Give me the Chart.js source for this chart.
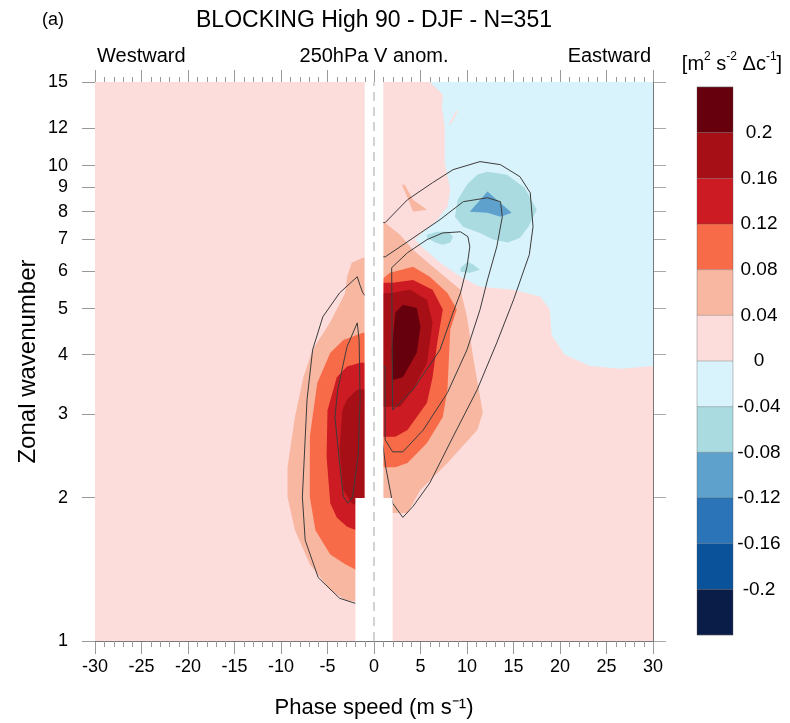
<!DOCTYPE html>
<html lang="en">
<head>
<meta charset="UTF-8">
<title>BLOCKING High 90 - DJF - N=351</title>
<script src="https://cdn.jsdelivr.net/npm/chart.js"></script>
<style>
  html, body { margin: 0; padding: 0; background: #fff; }
</style>
</head>
<body>
<div style="width: 790px; height: 723px;">
  <canvas id="specChart"></canvas>
</div>
<script>
// axes
const waveTicks = [1, 2, 3, 4, 5, 6, 7, 8, 9, 10, 12, 15];
const levelLabels = ['0.2', '0.16', '0.12', '0.08', '0.04', '0', '-0.04', '-0.08', '-0.12', '-0.16', '-0.2'];
// colour of each band, from > 0.2 down to < -0.2
const levelColors = ['#67000d', '#a50f15', '#cc1b22', '#f86b49', '#f8b7a1', '#fddcdc',
                     '#d8f3fb', '#a9dbe0', '#5ea1cd', '#2b74b8', '#0a539b', '#0a1d49'];

// shaded regions as [phase speed, wavenumber] pairs
const bgPink = [[-30, 1], [30, 1], [30, 15], [-30, 15]];
const negWeak = [[6.0, 15], [7.4, 14.1], [7.3, 13.3], [7.6, 12.1], [7.6, 10.15], [8.2, 8.9], [7.9, 8.2],
  [6.8, 7.7], [4.4, 7.0], [5.3, 6.7], [7.1, 6.25], [9.3, 5.84], [11.4, 5.56], [15.0, 5.48], [17.9, 5.3],
  [18.9, 4.98], [19.1, 4.41], [20.5, 4.0], [23.2, 3.79], [26.5, 3.74], [30, 3.79], [30, 15]];
const posSliverA = [[8.0, 12.2], [8.8, 13.0], [9.1, 13.1], [8.3, 12.25]];
const negMid = [[12.2, 9.71], [14.3, 9.57], [16.2, 8.99], [17.5, 8.08], [16.6, 7.44], [15.7, 7.05],
  [14.4, 6.89], [12.8, 6.99], [11.4, 7.22], [9.6, 7.44], [8.7, 7.81], [9.0, 8.48], [10.0, 9.12], [11.1, 9.57]];
const negMidB = [[5.7, 7.16], [6.8, 7.26], [8.0, 7.26], [8.5, 7.09], [8.2, 6.89], [7.4, 6.82], [6.6, 6.89], [5.7, 7.05]];
const negMidC = [[9.3, 6.10], [10.1, 6.28], [10.7, 6.19], [11.4, 6.04], [10.3, 5.95], [9.3, 5.98]];
const negStrong = [[10.3, 8.0], [12.2, 8.82], [13.2, 8.48], [14.8, 7.96], [13.6, 7.81], [12.2, 7.96]];

const westP04 = [[-1.2, 6.4], [-2.4, 6.25], [-2.9, 5.84], [-3.1, 5.4], [-4.7, 4.69], [-6.6, 4.1],
  [-7.6, 3.59], [-8.5, 2.96], [-9.3, 2.32], [-9.3, 2.01], [-8.5, 1.71], [-6.9, 1.45], [-4.7, 1.28],
  [-3.1, 1.22], [-1.9, 1.21], [-1, 1.21], [-1, 6.4]];
const westP08 = [[-1.2, 4.45], [-3.3, 4.3], [-4.7, 4.04], [-6.1, 3.49], [-6.9, 2.69], [-6.9, 2.01],
  [-6.3, 1.71], [-4.7, 1.52], [-3.1, 1.45], [-1.9, 1.41], [-1, 1.41], [-1, 4.45]];
const westP12 = [[-1.5, 3.85], [-2.9, 3.78], [-4.0, 3.59], [-5.0, 3.06], [-5.1, 2.44], [-4.7, 1.95],
  [-4.0, 1.82], [-2.9, 1.74], [-1.9, 1.71], [-1, 1.71], [-1, 3.85]];
const westP16 = [[-1.8, 3.38], [-2.9, 3.22], [-3.4, 3.06], [-3.7, 2.52], [-3.3, 2.08], [-2.4, 1.95],
  [-1.9, 1.93], [-1, 1.93], [-1, 3.38]];

const eastP04 = [[1.1, 7.6], [2.8, 7.16], [4.2, 6.65], [7.1, 5.95], [9.3, 5.48], [10.0, 4.81],
  [10.7, 3.91], [11.7, 3.02], [11.1, 2.78], [7.9, 2.37], [5.0, 2.08], [3.6, 1.86], [2.2, 1.86],
  [1, 1.86], [1, 7.6]];
const eastP08 = [[1, 5.8], [1.7, 5.95], [4.2, 6.13], [6.0, 5.84], [7.9, 5.4], [8.9, 4.98], [8.2, 4.52],
  [7.9, 3.38], [7.4, 2.96], [5.7, 2.61], [3.6, 2.37], [2.3, 2.32], [1, 2.32]];
const eastP12 = [[1, 5.67], [2.0, 5.67], [4.2, 5.75], [6.3, 5.48], [7.4, 4.98], [6.8, 4.24], [6.3, 3.59],
  [5.7, 3.17], [3.6, 2.78], [2.3, 2.69], [1, 2.69]];
const eastP16 = [[1, 5.4], [1.9, 5.4], [3.9, 5.48], [5.7, 5.22], [6.3, 4.67], [5.7, 3.85], [4.2, 3.38],
  [2.8, 3.11], [1, 3.11]];
const eastP20 = [[2.3, 4.91], [3.1, 5.1], [4.6, 5.02], [5.0, 4.58], [4.6, 4.04], [3.1, 3.59], [2.0, 3.54], [1.9, 4.1]];
const posSliverB = [[3.0, 9.12], [3.3, 9.12], [4.2, 8.48], [5.7, 8.08], [4.2, 8.0], [3.7, 8.48]];

// black contour lines
const eastOuter = [[0.5, 7.6], [1.2, 7.59], [3.6, 8.48], [6.3, 9.21], [8.5, 9.81], [11.4, 10.2],
  [13.6, 10.05], [15.7, 9.48], [16.8, 8.77], [17.1, 7.44], [16.7, 6.5], [15.0, 5.22], [13.2, 4.24],
  [11.1, 3.38], [8.5, 2.69], [6.0, 2.15], [4.2, 1.92], [3.1, 1.82], [2.0, 1.95], [1.3, 2.3], [0.5, 3.0], [0.5, 7.6]];
const eastMiddle = [[0.5, 6.43], [1.2, 6.43], [2.8, 6.75], [5.0, 7.22], [7.1, 7.7], [9.6, 8.4], [12.2, 8.56],
  [13.6, 8.4], [13.8, 7.81], [13.2, 6.75], [12.2, 5.75], [11.4, 4.98], [10.0, 4.1], [7.9, 3.33],
  [5.3, 2.78], [3.1, 2.5], [2.0, 2.5], [1.2, 2.65], [1.2, 3.78], [0.5, 3.78], [0.5, 6.43]];
const eastInner = [[1.9, 6.1], [3.6, 6.56], [5.7, 6.99], [7.4, 7.22], [9.3, 7.26], [10.1, 7.09], [10.3, 6.75],
  [10.0, 6.13], [9.3, 5.4], [8.5, 4.91], [7.1, 4.1], [4.2, 3.38], [2.0, 3.06], [1.9, 6.1]];
const westOuter = [[-1.8, 5.84], [-3.7, 5.4], [-5.5, 4.81], [-6.6, 4.1], [-7.2, 3.22], [-7.7, 2.01],
  [-7.4, 1.63], [-6.0, 1.36], [-3.7, 1.23], [-2.0, 1.2], [-1.5, 1.2], [-0.5, 1.5], [-0.5, 5.2],
  [-1.2, 5.4], [-1.5, 5.6], [-1.8, 5.84]];
const westInner = [[-1.8, 4.67], [-2.9, 4.16], [-3.9, 3.38], [-4.2, 2.96], [-3.7, 2.37], [-3.3, 2.01],
  [-2.8, 1.95], [-2.3, 2.01], [-1.7, 2.46], [-1.5, 3.22], [-1.6, 4.3], [-1.8, 4.67]];

// masked band around zero phase speed
const maskBand = [[-1, 15], [1, 15], [1, 2], [2, 2], [2, 1], [-2, 1], [-2, 2], [-1, 2]];
const zeroLine = [[0, 1], [0, 15]];

function toPoints(pts, close) {
  const out = pts.map(p => ({ x: p[0], y: p[1] }));
  if (close) out.push({ x: pts[0][0], y: pts[0][1] });
  return out;
}

function shade(pts, color) {
  return {
    data: toPoints(pts, true), showLine: true, fill: 'shape',
    backgroundColor: color, borderColor: color, borderWidth: 0,
    pointRadius: 0, pointHoverRadius: 0, tension: 0
  };
}

function contour(pts) {
  return {
    data: toPoints(pts, false), showLine: true, fill: false,
    borderColor: '#3c3c3c', borderWidth: 1, pointRadius: 0, pointHoverRadius: 0, tension: 0
  };
}

const datasets = [
  shade(bgPink, levelColors[5]),
  shade(negWeak, levelColors[6]),
  shade(posSliverA, levelColors[5]),
  shade(negMid, levelColors[7]),
  shade(negMidB, levelColors[7]),
  shade(negMidC, levelColors[7]),
  shade(negStrong, levelColors[8]),
  shade(westP04, levelColors[4]),
  shade(westP08, levelColors[3]),
  shade(westP12, levelColors[2]),
  shade(westP16, levelColors[1]),
  shade(eastP04, levelColors[4]),
  shade(eastP08, levelColors[3]),
  shade(eastP12, levelColors[2]),
  shade(eastP16, levelColors[1]),
  shade(eastP20, levelColors[0]),
  shade(posSliverB, levelColors[4]),
  contour(eastOuter),
  contour(eastMiddle),
  contour(eastInner),
  contour(westOuter),
  contour(westInner),
  shade(maskBand, '#ffffff'),
  {
    data: toPoints(zeroLine, false), showLine: true, fill: false,
    borderColor: '#c4c4c4', borderWidth: 1.5, borderDash: [9, 6], pointRadius: 0
  }
];
// later entries are drawn on top
datasets.forEach((d, i) => { d.order = datasets.length - i; });

const FONT = "'Liberation Sans', Arial, sans-serif";

// text with raised small parts, e.g. ['m', '2'] pairs of (base, superscript)
function drawSup(ctx, parts, cx, cy, size) {
  const big = size + 'px ' + FONT, small = Math.round(size * 0.62) + 'px ' + FONT;
  let w = 0;
  parts.forEach(p => {
    ctx.font = p[1] ? small : big;
    w += ctx.measureText(p[0]).width;
  });
  let x = cx - w / 2;
  ctx.textAlign = 'left';
  parts.forEach(p => {
    ctx.font = p[1] ? small : big;
    ctx.fillText(p[0], x, p[1] ? cy - size * 0.38 : cy);
    x += ctx.measureText(p[0]).width;
  });
}

const extras = {
  id: 'extras',
  afterDraw(chart) {
    const ctx = chart.ctx;
    const a = chart.chartArea;
    const x = chart.scales.x;
    ctx.save();
    // minor ticks
    ctx.strokeStyle = '#999';
    ctx.lineWidth = 1;
    for (let v = -30; v <= 30; v++) {
      if (v % 5 === 0) continue;
      const px = Math.round(x.getPixelForValue(v)) + 0.5;
      ctx.beginPath();
      ctx.moveTo(px, a.bottom); ctx.lineTo(px, a.bottom + 6);
      ctx.moveTo(px, a.top); ctx.lineTo(px, a.top - 5);
      ctx.stroke();
    }
    ctx.fillStyle = '#000';
    ctx.textBaseline = 'middle';
    ctx.font = '18px ' + FONT;
    ctx.textAlign = 'center';
    ctx.fillText('(a)', 53, 20);
    ctx.font = '23px ' + FONT;
    ctx.fillText('BLOCKING High 90 - DJF - N=351', (a.left + a.right) / 2, 21);
    ctx.font = '20px ' + FONT;
    ctx.fillText('250hPa V anom.', (a.left + a.right) / 2, 56);
    ctx.textAlign = 'left';
    ctx.fillText('Westward', a.left + 2, 56);
    ctx.textAlign = 'right';
    ctx.fillText('Eastward', a.right - 2, 56);
    drawSup(ctx, [['[m', 0], ['2', 1], [' s', 0], ['-2', 1], [' \u0394c', 0], ['-1', 1], [']', 0]],
            a.right + 79, 64, 20);

    // colour bar
    const bx = a.right + 44, bw = 36, top = a.top + 5, bottom = a.bottom - 6;
    const bh = (bottom - top) / levelColors.length;
    levelColors.forEach((c, i) => {
      ctx.fillStyle = c;
      ctx.fillRect(bx, top + i * bh, bw, bh);
    });
    ctx.strokeStyle = 'rgba(90,90,90,0.5)';
    ctx.lineWidth = 0.7;
    for (let i = 0; i <= levelColors.length; i++) {
      ctx.beginPath();
      ctx.moveTo(bx, top + i * bh); ctx.lineTo(bx + bw, top + i * bh);
      ctx.stroke();
    }
    ctx.strokeRect(bx, top, bw, bottom - top);
    ctx.fillStyle = '#000';
    ctx.font = '19px ' + FONT;
    ctx.textAlign = 'center';
    levelLabels.forEach((t, i) => {
      ctx.fillText(t, bx + 62, top + (i + 1) * bh);
    });
    ctx.restore();
  }
};

new Chart(document.getElementById('specChart'), {
  type: 'scatter',
  data: { datasets: datasets },
  options: {
    responsive: true,
    maintainAspectRatio: false,
    animation: false,
    events: [],
    layout: { padding: 0 },
    plugins: { legend: { display: false }, tooltip: { enabled: false } },
    scales: {
      x: {
        type: 'linear', position: 'bottom', min: -30, max: 30,
        ticks: { stepSize: 5, color: '#000', font: { family: FONT, size: 18 }, padding: 2, maxRotation: 0 },
        grid: { drawOnChartArea: false, tickLength: 13, tickColor: '#999' },
        border: { color: '#777' },
        title: { display: true, text: 'Phase speed (m s\u207B\u00B9)', color: '#000',
                 font: { family: FONT, size: 22 }, padding: { top: 2, bottom: 2 } },
        afterFit(s) { s.height = 82; }
      },
      x2: {
        type: 'linear', position: 'top', min: -30, max: 30,
        ticks: { stepSize: 5, display: false },
        grid: { drawOnChartArea: false, tickLength: 12, tickColor: '#999' },
        border: { color: '#777' },
        afterFit(s) { s.height = 82; }
      },
      y: {
        type: 'logarithmic', position: 'left', min: 1, max: 15,
        afterBuildTicks(s) { s.ticks = waveTicks.map(v => ({ value: v })); },
        ticks: { autoSkip: false, color: '#000', font: { family: FONT, size: 18 }, padding: 14,
                 callback: v => String(v) },
        grid: { drawOnChartArea: false, tickLength: 13, tickColor: '#999' },
        border: { color: '#777' },
        title: { display: true, text: 'Zonal wavenumber', color: '#000',
                 font: { family: FONT, size: 24 }, padding: { top: 14, bottom: 2 } },
        afterFit(s) { s.width = 95; }
      },
      y2: {
        type: 'logarithmic', position: 'right', min: 1, max: 15,
        afterBuildTicks(s) { s.ticks = waveTicks.map(v => ({ value: v })); },
        ticks: { display: false },
        grid: { drawOnChartArea: false, tickLength: 13, tickColor: '#aaa' },
        border: { color: '#777' },
        afterFit(s) { s.width = 137; }
      }
    }
  },
  plugins: [extras]
});
</script>
</body>
</html>
